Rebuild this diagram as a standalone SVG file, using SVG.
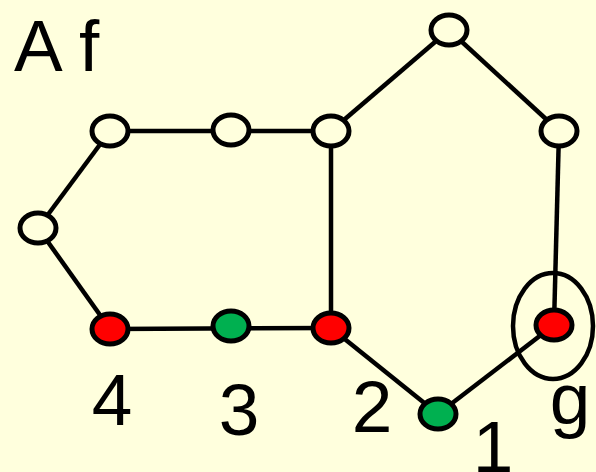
<svg xmlns="http://www.w3.org/2000/svg" width="596" height="472" viewBox="0 0 596 472">
<style>
.bg{fill:#FFFFDD}
.e{stroke:#000;stroke-width:5;fill:#FFFFDD}
.r{fill:#FF0000}
.g{fill:#00B050}
.c line{stroke:#000;stroke-width:4.5}
text{font-family:"Liberation Sans",Arial,sans-serif;font-size:73px;fill:#000}
</style>
<rect class="bg" width="596" height="472"/>
<text x="14" y="71">A f</text>
<g class="c" id="connectors">
<line x1="38" y1="228" x2="110" y2="131"/>
<line x1="110" y1="131" x2="331" y2="131"/>
<line x1="331" y1="131" x2="449" y2="30"/>
<line x1="449" y1="30" x2="559" y2="131"/>
<line x1="559" y1="131" x2="554" y2="325"/>
<line x1="331" y1="131" x2="331" y2="328"/>
<line x1="38" y1="228" x2="110" y2="329"/>
<line x1="110" y1="329" x2="331" y2="328"/>
<line x1="331" y1="328" x2="438" y2="414"/>
<line x1="438" y1="414" x2="554" y2="325"/>
</g>
<g id="n-left"><ellipse class="e" cx="38" cy="228" rx="18" ry="15"/></g>
<g id="n-tl1"><ellipse class="e" cx="110" cy="131" rx="18" ry="15"/></g>
<g id="n-tl2"><ellipse class="e" cx="231" cy="130" rx="18" ry="15"/></g>
<g id="n-tl3"><ellipse class="e" cx="331" cy="131" rx="18" ry="15"/></g>
<g id="n-top"><ellipse class="e" cx="449" cy="30" rx="18" ry="15"/></g>
<g id="n-right"><ellipse class="e" cx="559" cy="131" rx="18" ry="15"/></g>
<g id="n4"><ellipse class="e r" cx="110" cy="329" rx="18" ry="15"/><text x="112" y="425" text-anchor="middle">4</text></g>
<g id="n3"><ellipse class="e g" cx="231" cy="326" rx="18" ry="15"/><text x="239" y="435" text-anchor="middle">3</text></g>
<g id="n2"><ellipse class="e r" cx="331" cy="328" rx="18" ry="15"/><text x="372" y="432" text-anchor="middle">2</text></g>
<g id="n1"><ellipse class="e g" cx="438" cy="414" rx="18" ry="15"/><text x="493" y="472" text-anchor="middle">1</text></g>
<g id="ng"><ellipse cx="553" cy="326" rx="40" ry="53" fill="none" stroke="#000" stroke-width="4.5"/><ellipse class="e r" cx="554" cy="325" rx="18" ry="15"/><text x="570" y="424" text-anchor="middle">g</text></g>
</svg>
